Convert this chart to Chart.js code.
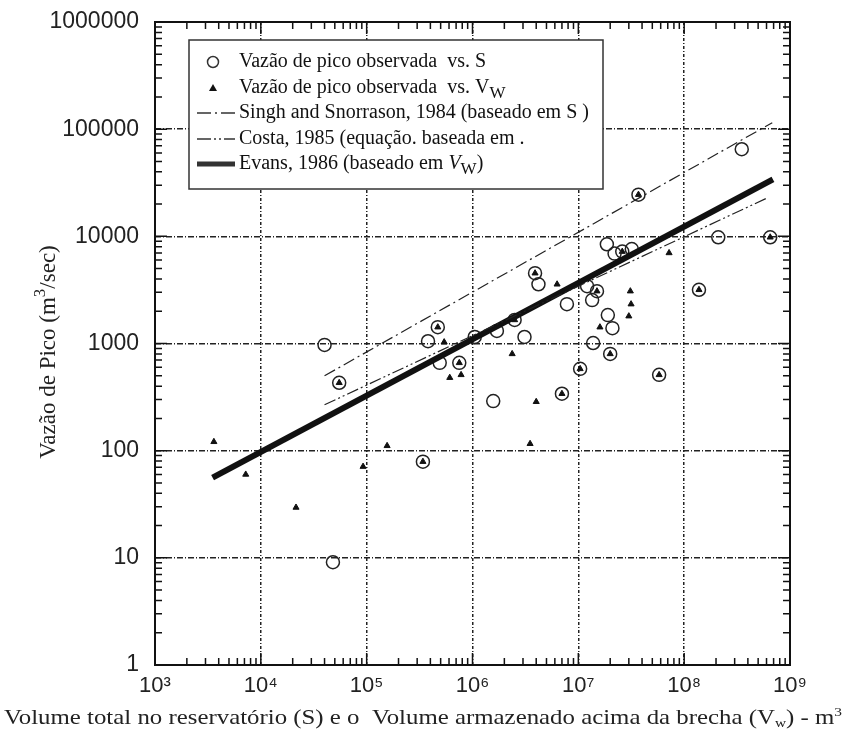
<!DOCTYPE html>
<html>
<head>
<meta charset="utf-8">
<script src="https://cdn.jsdelivr.net/npm/chart.js@4.4.1/dist/chart.umd.min.js"></script>
<style>
    html, body { margin: 0; padding: 0; background: #fff; }
    #chartContainer { width: 847px; height: 735px; }
</style>
</head>
<body>
<div id="chartContainer"><canvas id="myChart" width="847" height="735"></canvas></div>
<script>
// tick values and labels
var xTicks = [1e3, 1e4, 1e5, 1e6, 1e7, 1e8, 1e9];
var xTickLabels = ["10\u00B3", "10\u2074", "10\u2075", "10\u2076", "10\u2077", "10\u2078", "10\u2079"];
var yTicks = [1, 10, 100, 1000, 10000, 100000, 1000000];
var yTickLabels = ["1", "10", "100", "1000", "10000", "100000", "1000000"];

// observed peak flow vs. S (open circles)
var sVolume = [4.0e4, 5.5e4, 4.8e4, 3.4e5, 3.8e5, 4.7e5, 4.9e5, 7.5e5, 1.05e6, 1.57e6, 1.7e6, 2.5e6, 3.1e6,
    3.9e6, 4.2e6, 7.0e6, 7.8e6, 1.04e7, 1.21e7, 1.35e7, 1.38e7, 1.5e7, 1.86e7, 1.9e7, 2.0e7, 2.1e7,
    2.2e7, 2.6e7, 3.2e7, 3.7e7, 5.8e7, 1.38e8, 2.1e8, 3.5e8, 6.5e8];
var sPeak = [970, 430, 9.1, 79, 1050, 1420, 660, 660, 1150, 290, 1310, 1660, 1150,
    4530, 3570, 340, 2330, 580, 3430, 2540, 1010, 3080, 8430, 1840, 800, 1390,
    6900, 7200, 7600, 24500, 510, 3170, 9800, 65000, 9800];

// observed peak flow vs. Vw (small filled triangles)
var vwVolume = [3.6e3, 7.2e3, 2.15e4, 9.25e4, 1.56e5, 3.4e5, 5.5e4, 4.7e5, 5.4e5, 6.1e5, 7.8e5, 7.5e5,
    2.37e6, 2.5e6, 3.5e6, 4.0e6, 3.9e6, 6.3e6, 7.0e6, 1.04e7, 2.0e7, 1.6e7, 1.5e7, 2.6e7,
    3.1e7, 3.15e7, 3.0e7, 3.7e7, 7.2e7, 5.8e7, 1.38e8, 6.5e8];
var vwPeak = [121, 60, 29.5, 71, 111, 79, 430, 1420, 1030, 480, 510, 660,
    800, 1660, 116, 286, 4530, 3570, 340, 580, 800, 1420, 3080, 7200,
    3080, 2330, 1800, 24500, 7000, 510, 3170, 9800];

// regression lines (end points)
var singhVolume = [4.0e4, 6.8e8];
var singhPeak = [500, 115000];
var costaVolume = [4.0e4, 6.2e8];
var costaPeak = [268, 23000];
var evansVolume = [3.5e3, 6.9e8];
var evansPeak = [56, 34000];

function pairs(xs, ys) {
    return xs.map(function (x, i) { return { x: x, y: ys[i] }; });
}

var serif = '"Liberation Serif", "Times New Roman", serif';
var sans = '"Liberation Sans", Arial, sans-serif';

// draws a run of text pieces (for super/subscripts)
function drawRich(ctx, parts, x, y) {
    var cx = x;
    parts.forEach(function (p) {
        ctx.font = p.font;
        ctx.fillText(p.t, cx, y + (p.dy || 0));
        cx += ctx.measureText(p.t).width;
    });
    return cx - x;
}
function richWidth(ctx, parts) {
    var w = 0;
    parts.forEach(function (p) { ctx.font = p.font; w += ctx.measureText(p.t).width; });
    return w;
}

var framePlugin = {
    id: "frame",
    afterDatasetsDraw: function (chart) {
        var ctx = chart.ctx;
        var a = chart.chartArea;
        var xs = chart.scales.x, ys = chart.scales.y;
        ctx.save();
        ctx.strokeStyle = "#111";
        ctx.setLineDash([]);
        // minor and major ticks on all four sides, pointing inward
        ctx.lineWidth = 1.5;
        ctx.beginPath();
        for (var i = 0; i < xTicks.length; i++) {
            for (var m = 1; m <= 9; m++) {
                var v = xTicks[i] * m;
                if (v > xTicks[xTicks.length - 1]) break;
                var px = xs.getPixelForValue(v);
                var len = m === 1 ? 12 : 7;
                ctx.moveTo(px, a.bottom); ctx.lineTo(px, a.bottom - len);
                ctx.moveTo(px, a.top); ctx.lineTo(px, a.top + len);
            }
        }
        for (var j = 0; j < yTicks.length; j++) {
            for (var n = 1; n <= 9; n++) {
                var w = yTicks[j] * n;
                if (w > yTicks[yTicks.length - 1]) break;
                var py = ys.getPixelForValue(w);
                var l2 = n === 1 ? 12 : 7;
                ctx.moveTo(a.left, py); ctx.lineTo(a.left + l2, py);
                ctx.moveTo(a.right, py); ctx.lineTo(a.right - l2, py);
            }
        }
        ctx.stroke();
        ctx.lineWidth = 2;
        ctx.strokeRect(a.left, a.top, a.right - a.left, a.bottom - a.top);

        // legend box
        var bx = a.left + 34, by = a.top + 18, bw = 414, bh = 149;
        ctx.fillStyle = "#fff";
        ctx.fillRect(bx, by, bw, bh);
        ctx.lineWidth = 1.5;
        ctx.strokeStyle = "#333";
        ctx.strokeRect(bx, by, bw, bh);

        var tx = bx + 50;
        var rows = [by + 22, by + 48, by + 73, by + 99, by + 124];
        var f = "20px " + serif;
        var fsub = "17px " + serif;
        var fi = "italic 20px " + serif;
        ctx.fillStyle = "#111";
        ctx.textBaseline = "middle";
        ctx.textAlign = "left";

        ctx.lineWidth = 1.5;
        ctx.beginPath();
        ctx.arc(bx + 24, rows[0], 5.5, 0, Math.PI * 2);
        ctx.stroke();
        drawRich(ctx, [{ t: "Vaz\u00E3o de pico observada  vs. S", font: f }], tx, rows[0]);

        ctx.beginPath();
        ctx.moveTo(bx + 24, rows[1] - 4); ctx.lineTo(bx + 28, rows[1] + 3); ctx.lineTo(bx + 20, rows[1] + 3);
        ctx.closePath(); ctx.fill();
        drawRich(ctx, [{ t: "Vaz\u00E3o de pico observada  vs. V", font: f }, { t: "W", font: fsub, dy: 6 }], tx, rows[1]);

        ctx.lineWidth = 1.3;
        ctx.setLineDash([14, 4, 2, 4]);
        ctx.beginPath(); ctx.moveTo(bx + 8, rows[2]); ctx.lineTo(bx + 46, rows[2]); ctx.stroke();
        ctx.setLineDash([]);
        drawRich(ctx, [{ t: "Singh and Snorrason, 1984 (baseado em S )", font: f }], tx, rows[2]);

        ctx.setLineDash([14, 3, 2, 3, 2, 3]);
        ctx.beginPath(); ctx.moveTo(bx + 8, rows[3]); ctx.lineTo(bx + 46, rows[3]); ctx.stroke();
        ctx.setLineDash([]);
        drawRich(ctx, [{ t: "Costa, 1985 (equa\u00E7\u00E3o. baseada em .", font: f }], tx, rows[3]);

        ctx.lineWidth = 5;
        ctx.beginPath(); ctx.moveTo(bx + 8, rows[4]); ctx.lineTo(bx + 46, rows[4]); ctx.stroke();
        drawRich(ctx, [{ t: "Evans, 1986 (baseado em ", font: f }, { t: "V", font: fi }, { t: "W", font: fsub, dy: 6 }, { t: ")", font: f }], tx, rows[4]);
        ctx.restore();
    },
    afterDraw: function (chart) {
        var ctx = chart.ctx;
        ctx.save();
        ctx.fillStyle = "#222";
        ctx.textBaseline = "alphabetic";
        ctx.textAlign = "left";
        // x axis title, stretched to the full page width like the original
        var size = 21;
        var xParts = function (s) {
            return [
                { t: "Volume total no reservat\u00F3rio (S) e o  Volume armazenado acima da brecha (V", font: s + "px " + serif },
                { t: "w", font: Math.round(s * 0.6) + "px " + serif, dy: 3 },
                { t: ") - m", font: s + "px " + serif },
                { t: "3", font: Math.round(s * 0.6) + "px " + serif, dy: -8 }
            ];
        };
        var tw = richWidth(ctx, xParts(size));
        ctx.save();
        ctx.translate(4, 724);
        ctx.scale(838 / tw, 1);
        drawRich(ctx, xParts(size), 0, 0);
        ctx.restore();

        // y axis title
        var yParts = [
            { t: "Vaz\u00E3o de Pico (m", font: "23px " + serif },
            { t: "3", font: "17px " + serif, dy: -10 },
            { t: "/sec)", font: "23px " + serif }
        ];
        var yw = richWidth(ctx, yParts);
        ctx.translate(55, 352);
        ctx.rotate(-Math.PI / 2);
        drawRich(ctx, yParts, -yw / 2, 0);
        ctx.restore();
    }
};

var ctx = document.getElementById("myChart").getContext("2d");
// eslint-disable-next-line no-undef,no-new
new Chart(ctx, {
    type: "scatter",
    data: {
        datasets: [
            {
                label: "Singh and Snorrason, 1984",
                data: pairs(singhVolume, singhPeak),
                showLine: true,
                borderColor: "#222",
                borderWidth: 1.2,
                borderDash: [12, 4, 2, 4],
                pointRadius: 0,
            },
            {
                label: "Costa, 1985",
                data: pairs(costaVolume, costaPeak),
                showLine: true,
                borderColor: "#222",
                borderWidth: 1.2,
                borderDash: [12, 3, 2, 3, 2, 3],
                pointRadius: 0,
            },
            {
                label: "Evans, 1986",
                data: pairs(evansVolume, evansPeak),
                showLine: true,
                borderColor: "#111",
                borderWidth: 6,
                pointRadius: 0,
            },
            {
                label: "vs. S",
                data: pairs(sVolume, sPeak),
                pointStyle: "circle",
                pointRadius: 6.5,
                borderWidth: 1.5,
                borderColor: "#222",
                backgroundColor: "rgba(255,255,255,0)",
            },
            {
                label: "vs. Vw",
                data: pairs(vwVolume, vwPeak),
                pointStyle: "triangle",
                pointRadius: 3.5,
                borderWidth: 1,
                borderColor: "#111",
                backgroundColor: "#111",
            },
        ],
    },
    options: {
        responsive: false,
        animation: false,
        layout: { padding: { left: 0, right: 57, top: 22, bottom: 0 } },
        plugins: {
            legend: { display: false },
            tooltip: { enabled: false },
        },
        scales: {
            x: {
                type: "logarithmic",
                min: xTicks[0],
                max: xTicks[xTicks.length - 1],
                afterBuildTicks: function (scale) {
                    scale.ticks = xTicks.map(function (v) { return { value: v }; });
                },
                afterFit: function (scale) { scale.height = 70; },
                ticks: {
                    autoSkip: false,
                    maxRotation: 0,
                    padding: 8,
                    color: "#222",
                    font: { family: sans, size: 22 },
                    callback: function (value) {
                        return xTickLabels[xTicks.indexOf(value)];
                    },
                },
                grid: { color: "#222", lineWidth: 1.5, drawTicks: false },
                border: { display: false, dash: [3, 2, 1, 2] },
            },
            y: {
                type: "logarithmic",
                min: yTicks[0],
                max: yTicks[yTicks.length - 1],
                afterBuildTicks: function (scale) {
                    scale.ticks = yTicks.map(function (v) { return { value: v }; });
                },
                afterFit: function (scale) {
                    scale.width = 155;
                    scale.paddingTop = 0;
                    scale.paddingBottom = 0;
                },
                ticks: {
                    autoSkip: false,
                    padding: 16,
                    color: "#222",
                    font: { family: sans, size: 23 },
                    callback: function (value) {
                        return yTickLabels[yTicks.indexOf(value)];
                    },
                },
                grid: { color: "#222", lineWidth: 1.5, drawTicks: false },
                border: { display: false, dash: [6, 2, 1, 2] },
            },
        },
    },
    plugins: [framePlugin],
});
</script>
</body>
</html>
